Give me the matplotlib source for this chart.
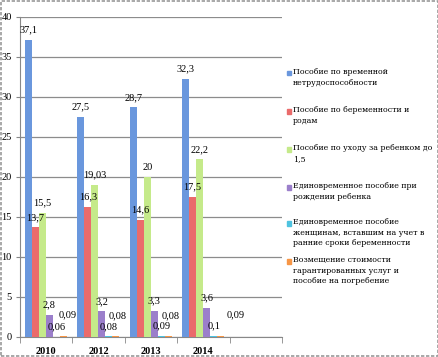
import matplotlib.pyplot as plt
import matplotlib.patches as mpatches
import numpy as np

# data
years = ['2010', '2012', '2013', '2014', '']
series_names = [
    'Пособие по временной\nнетрудоспособности',
    'Пособие по беременности и\nродам',
    'Пособие по уходу за ребенком до\n1,5',
    'Единовременное пособие при\nрождении ребенка',
    'Единовременное пособие\nженщинам, вставшим на учет в\nранние сроки беременности',
    'Возмещение стоимости\nгарантированных услуг и\nпособие на погребение',
]
temp_disability = [37.1, 27.5, 28.7, 32.3]
pregnancy = [13.7, 16.3, 14.6, 17.5]
child_care = [15.5, 19.03, 20, 22.2]
birth_lump = [2.8, 3.2, 3.3, 3.6]
early_reg = [0.06, 0.08, 0.09, 0.1]
funeral = [0.09, 0.08, 0.08, 0.09]

labels_txt = [
    ['37,1', '27,5', '28,7', '32,3'],
    ['13,7', '16,3', '14,6', '17,5'],
    ['15,5', '19,03', '20', '22,2'],
    ['2,8', '3,2', '3,3', '3,6'],
    ['0,06', '0,08', '0,09', '0,1'],
    ['0,09', '0,08', '0,08', '0,09'],
]

colors = ['#6a97dd', '#ea6b6b', '#c5ea8a', '#9b7fcb', '#4fc3e0', '#f79646']
all_series = [temp_disability, pregnancy, child_care, birth_lump, early_reg, funeral]

plt.rcParams['font.family'] = ['Liberation Serif', 'DejaVu Serif']

fig = plt.figure(figsize=(4.39, 3.57), dpi=100)
ax = fig.add_axes([20 / 439, 20 / 357, 262 / 439, 320 / 357])

x = np.arange(len(temp_disability))
w = 7 / 52.4
for i, vals in enumerate(all_series):
    pos = x - 0.5 + 5 / 52.4 + w * (i + 0.5)
    bars = ax.bar(pos, vals, width=w, color=colors[i], zorder=3)
    for j, b in enumerate(bars):
        dx, dy = 0, 10
        if i == 5:
            dx, dy = [4, 2, 2, 15][j], 21
        ax.annotate(labels_txt[i][j], (b.get_x() + b.get_width() / 2, b.get_height()),
                    xytext=(dx, dy), textcoords='offset pixels',
                    ha='center', va='center', fontsize=7.5, zorder=5)

ax.set_xlim(-0.5, 4.5)
ax.set_ylim(0, 40)
ax.set_yticks(range(0, 41, 5))
ax.set_xticks(range(5))
ax.set_xticklabels(years, fontsize=7.5, fontweight='bold')
ax.set_xticks(np.arange(-0.5, 5, 1), minor=True)
ax.tick_params(axis='x', which='major', length=0, pad=7)
ax.tick_params(axis='x', which='minor', length=4, color='#888888')
ax.tick_params(axis='y', length=3, color='#888888', labelsize=7.5, pad=3)
ax.grid(axis='y', color='#8c8c8c', lw=0.9, zorder=0)
for s in ['top', 'right']:
    ax.spines[s].set_visible(False)
ax.spines['left'].set_color('#888888')
ax.spines['bottom'].set_color('#888888')

# legend
leg_y = [73, 111, 149, 187, 223, 261]
for i, name in enumerate(series_names):
    yy = 1 - leg_y[i] / 357
    fig.patches.append(mpatches.Rectangle((287 / 439, yy - 2.5 / 357), 4.5 / 439, 4.5 / 357,
                                          transform=fig.transFigure, color=colors[i]))
    fig.text(293 / 439, yy + 5 / 357, name, fontsize=5.7, va='top', ha='left',
             linespacing=1.45, family='DejaVu Serif', color='black')

fig.patches.append(mpatches.Rectangle((0.002, 0.003), 0.995, 0.994, transform=fig.transFigure,
                                      fill=False, edgecolor='#999999', lw=1.2, ls=(0, (2, 1))))

fig.savefig('out.png', dpi=100)
